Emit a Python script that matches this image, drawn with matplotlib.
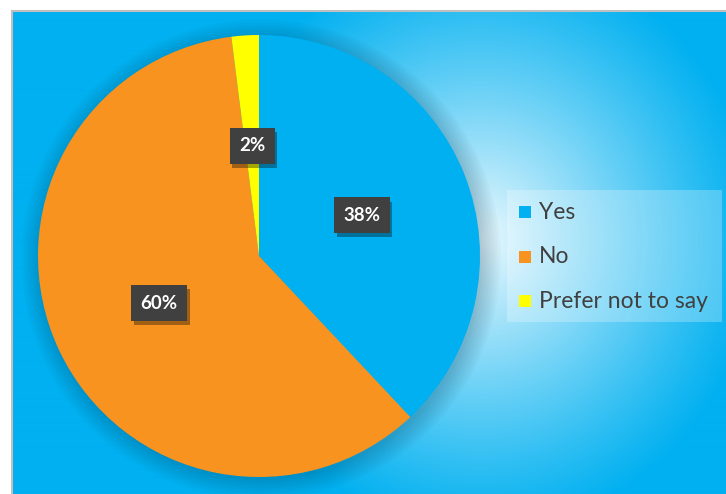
import matplotlib
matplotlib.use("Agg")
import matplotlib.pyplot as plt
import matplotlib.patheffects as pe
import numpy as np
from matplotlib.patches import Rectangle, Circle

categories = ["Yes", "No", "Prefer not to say"]
values = [38, 60, 2]
colors = ["#00B0F0", "#F7931E", "#FFFF00"]

W, H = 726, 494
fig = plt.figure(figsize=(W / 100, H / 100), dpi=100)

# background: white margin, grey border, radial blue gradient
bg = fig.add_axes([0, 0, 1, 1])
bg.set_xlim(0, W)
bg.set_ylim(H, 0)
bg.axis("off")
yy, xx = np.mgrid[0:H, 0:W]
d = np.sqrt(((xx - 480) / 1.0) ** 2 + ((yy - 240) / 1.05) ** 2)
t = np.clip(d / 280, 0, 1)
blue = np.array([0, 176, 240]) / 255
white = np.array([1.0, 1.0, 1.0])
w = 0.92 * (1 - t) ** 1.1
img = blue[None, None, :] * (1 - w[..., None]) + white[None, None, :] * w[..., None]
img[:11, :, :] = 1
img[:, :12, :] = 1
bg.imshow(img, extent=(0, W, H, 0), aspect="auto", interpolation="bilinear")
bg.plot([12, 12], [11, H], color="#BFBFBF", lw=1.5)
bg.plot([12, W], [11, 11], color="#BFBFBF", lw=1.5)

# legend box
bg.add_patch(Rectangle((507, 190), 215, 132, fc="white", alpha=0.25, ec="none"))
for i, (lab, c) in enumerate(zip(categories, colors)):
    y = 212 + i * 44.5
    bg.add_patch(Rectangle((519, y - 6), 12, 12, fc=c, ec="none"))
    bg.text(539, y, lab, fontsize=16.5, family="Lato", color="#404040",
            va="center", ha="left")

cx, cy, r = 259, 256, 221
ax = fig.add_axes([(cx - r) / W, (H - cy - r) / H, 2 * r / W, 2 * r / H])

# soft shadow around the pie
for k in range(8):
    ax.add_patch(Circle((0.01, -0.015), 1.0 + k * 0.012, fc="#00334d",
                        alpha=0.03, ec="none", zorder=0, clip_on=False))

wedges, texts, autotexts = ax.pie(values, colors=colors, startangle=90,
                                  counterclock=False, radius=1,
                                  autopct="%d%%", pctdistance=0.5,
                                  wedgeprops=dict(linewidth=0),
                                  textprops=dict(color="white", fontsize=13.5,
                                                 fontweight="bold", family="Lato"))
ax.set_xlim(-1, 1)
ax.set_ylim(-1, 1)
ax.set_aspect("equal")
ax.axis("off")

for t_ in autotexts:
    t_.set_bbox(dict(boxstyle="square,pad=0.5", fc="#404040", ec="none"))
    t_.get_bbox_patch().set_path_effects([
        pe.SimplePatchShadow(offset=(2, -3), shadow_rgbFace="black", alpha=0.35),
        pe.Normal()])
    t_.set_zorder(5)

fig.savefig("out.png", dpi=100)
